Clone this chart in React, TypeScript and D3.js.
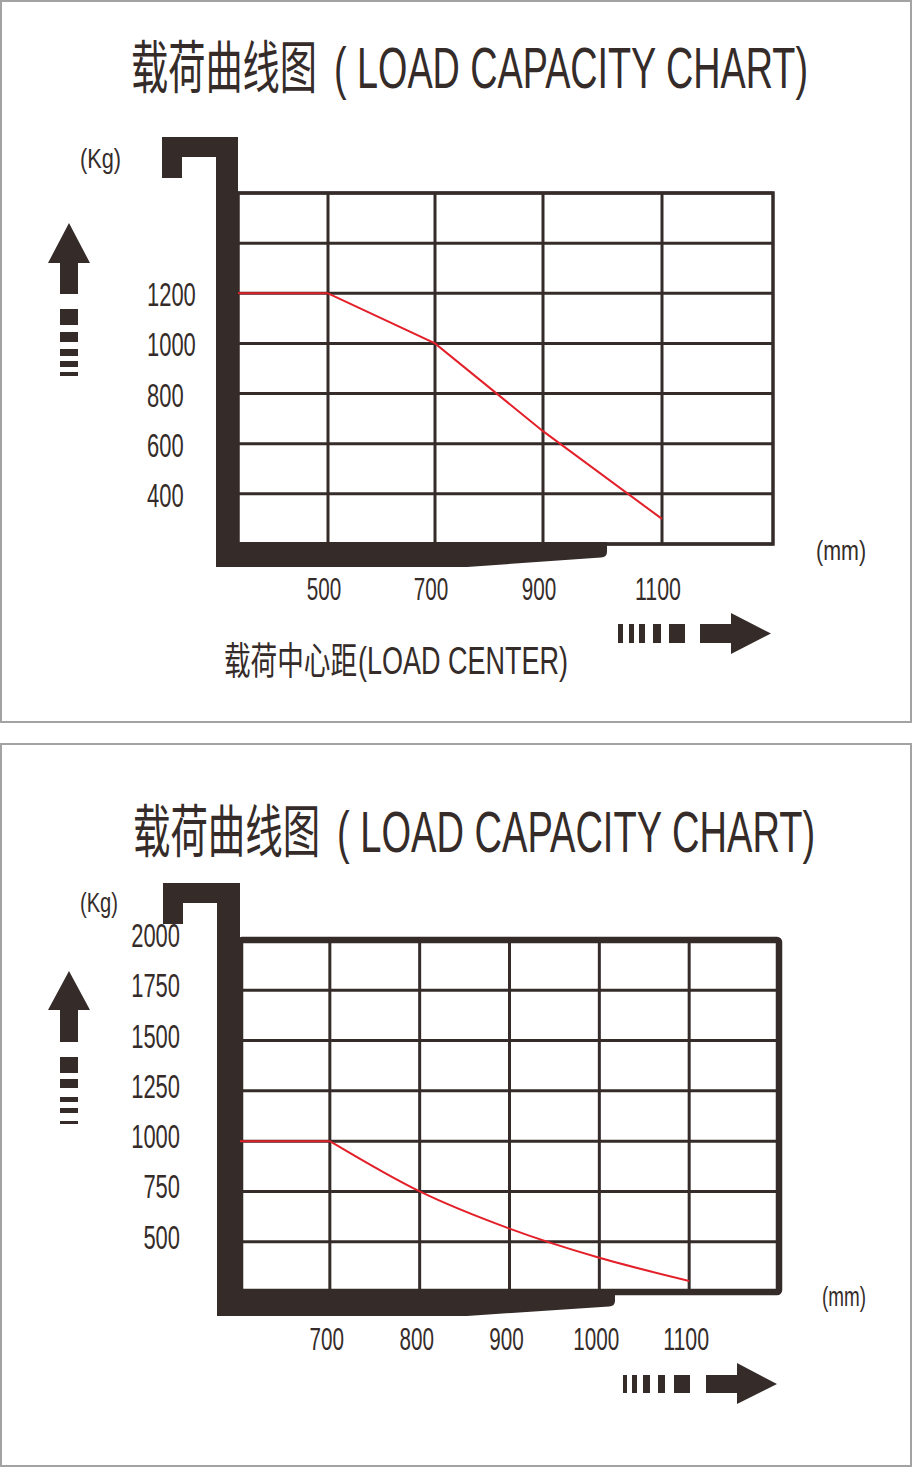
import * as d3 from "d3";
import { useLayoutEffect, useRef, useState } from "react";

// ---- data ----
const titleZh = "载荷曲线图";
const titleEn = "( LOAD CAPACITY CHART)";
const xAxisZh = "载荷中心距";
const xAxisEn = "(LOAD CENTER)";

// upper chart
const topXTicks = [500, 700, 900, 1100];
const topYTicks = [400, 600, 800, 1000, 1200];
const topYGrid = [200, 400, 600, 800, 1000, 1200, 1400, 1600];
const topLoadCenter = [300, 500, 700, 900, 1100];
const topCapacity = [1200, 1200, 1000, 650, 300];

// lower chart
const bottomXTicks = [700, 800, 900, 1000, 1100];
const bottomYTicks = [500, 750, 1000, 1250, 1500, 1750, 2000];
const bottomYGrid = [250, 500, 750, 1000, 1250, 1500, 1750, 2000];
const bottomLoadCenter = [600, 700, 800, 900, 1000, 1100];
const bottomCapacity = [1000, 1000, 750, 565, 420, 305];

const INK = "#352c2a";
const RED = "#e3202a";
const LATIN = "'Liberation Sans Narrow', 'Liberation Sans', Arial, sans-serif";
const CJK = "'Noto Sans CJK SC', sans-serif";

// condensed text: measured, then squeezed horizontally to the width seen in the reference
function Txt({ x, y, len, size, anchor = "start", font = LATIN, children }: any) {
  const ref = useRef<SVGTextElement>(null);
  const [k, setK] = useState(0.7);
  useLayoutEffect(() => {
    const fit = () => {
      if (!ref.current) return;
      const w = ref.current.getComputedTextLength();
      if (w > 0) setK(len / w);
    };
    fit();
    document.fonts?.ready.then(fit);
  }, [len, size, font, children]);
  return (
    <text
      ref={ref}
      transform={`translate(${x},${y}) scale(${k},1)`}
      fontSize={size}
      fontFamily={font}
      fill={INK}
      textAnchor={anchor}
    >
      {children}
    </text>
  );
}

function forkPath(f: any) {
  return [
    `M${f.hookX},${f.top}`,
    `H${f.faceX}`,
    `V${f.bladeTop}`,
    `H${f.tipX}`,
    `V${f.tipBottom - 5}`,
    `Q${f.tipX},${f.tipBottom} ${f.tipX - 6},${f.tipBottom + 0.5}`,
    `L${f.taperX},${f.bladeBottom}`,
    `H${f.barX}`,
    `V${f.hookBar}`,
    `H${f.hookX + 20}`,
    `V${f.hookBottom}`,
    `H${f.hookX}`,
    "Z",
  ].join(" ");
}

function UpArrow({ a }: any) {
  const cx = 69;
  return (
    <g fill={INK}>
      <path d={`M${cx},${a.apex} L${cx + 21},${a.base} H${cx + 9} V${a.shaft} H${cx - 9} V${a.base} H${cx - 21} Z`} />
      {a.dashes.map((d: number[], i: number) => (
        <rect key={i} x={cx - 9} y={d[0]} width={18} height={d[1] - d[0]} />
      ))}
    </g>
  );
}

function RightArrow({ a }: any) {
  const mid = (a.y0 + a.y1) / 2;
  return (
    <g fill={INK}>
      {a.dashes.map((d: number[], i: number) => (
        <rect key={i} x={d[0]} y={a.y0} width={d[1] - d[0]} height={a.y1 - a.y0} />
      ))}
      <path
        d={`M${a.shaft0},${a.y0} H${a.shaft1} V${a.headTop} L${a.apex},${mid} L${a.shaft1},${a.headBottom} V${a.y1} H${a.shaft0} Z`}
      />
    </g>
  );
}

function Chart({ cfg }: any) {
  const x = d3.scaleLinear().domain(cfg.xDomain).range(cfg.xRange);
  const y = d3.scaleLinear().domain(cfg.yDomain).range(cfg.yRange);
  const [gx0, gx1] = [x.range()[0], x.range()[x.range().length - 1]];
  const [gy0, gy1] = [y(cfg.yDomain[1]), y(cfg.yDomain[0])];
  const pts: [number, number][] = cfg.loadCenter.map((d: number, i: number) => [d, cfg.capacity[i]]);
  const flat = pts.slice(0, 2);
  const bend = pts.slice(1);
  const line = d3.line<[number, number]>().x((d) => x(d[0])).y((d) => y(d[1]));
  const curve = d3
    .line<[number, number]>()
    .x((d) => x(d[0]))
    .y((d) => y(d[1]))
    .curve(cfg.smooth ? d3.curveMonotoneX : d3.curveLinear);

  return (
    <g>
      <rect x={1} y={cfg.panel[0]} width={910} height={cfg.panel[1] - cfg.panel[0]} fill="#fff" stroke="#a3a3a3" strokeWidth={2} />
      {/* title */}
      <Txt x={cfg.title.zhX} y={cfg.title.y} len={cfg.title.zhLen} size={57} font={CJK}>{titleZh}</Txt>
      <Txt x={cfg.title.enX} y={cfg.title.y} len={cfg.title.enLen} size={57}>{titleEn}</Txt>

      {/* grid */}
      <g stroke={INK} strokeWidth={3} fill="none">
        {cfg.yGrid.map((v: number) => (
          <line key={v} x1={gx0} x2={gx1} y1={y(v)} y2={y(v)} />
        ))}
        {cfg.xTicks.map((v: number) => (
          <line key={v} x1={x(v)} x2={x(v)} y1={gy0} y2={gy1} />
        ))}
        <rect x={gx0} y={gy0} width={gx1 - gx0} height={gy1 - gy0} strokeWidth={cfg.border} rx={cfg.border > 4 ? 2 : 0} />
      </g>

      {/* fork */}
      <path d={forkPath(cfg.fork)} fill={INK} />

      {/* capacity curve */}
      <path d={line(flat) || ""} fill="none" stroke={RED} strokeWidth={2} />
      <path d={curve(bend) || ""} fill="none" stroke={RED} strokeWidth={2} />

      {/* axis labels */}
      {cfg.yTicks.map((v: number) => (
        <Txt key={v} x={cfg.yLabel.x} y={y(v) + cfg.yLabel.dy} anchor={cfg.yLabel.anchor} size={34} len={String(v).length * 12.2}>
          {v}
        </Txt>
      ))}
      {cfg.xTicks.map((v: number) => (
        <Txt key={v} x={x(v) + cfg.xLabel.dx} y={cfg.xLabel.y} anchor="middle" size={32} len={String(v).length * 11.5}>
          {v}
        </Txt>
      ))}
      <Txt x={cfg.kg[0]} y={cfg.kg[1]} size={28} len={cfg.kg[2]}>(Kg)</Txt>
      <Txt x={cfg.mm[0]} y={cfg.mm[1]} size={28} len={cfg.mm[2]}>(mm)</Txt>
      {cfg.center && (
        <g>
          <Txt x={cfg.center.x} y={cfg.center.y} size={38} font={CJK} len={cfg.center.zhLen}>{xAxisZh}</Txt>
          <Txt x={cfg.center.x + cfg.center.zhLen + 1} y={cfg.center.y} size={38} len={cfg.center.enLen}>{xAxisEn}</Txt>
        </g>
      )}

      <UpArrow a={cfg.up} />
      <RightArrow a={cfg.right} />
    </g>
  );
}

const topCfg = {
  panel: [1, 722],
  title: { zhX: 131, enX: 334, y: 88, zhLen: 186, enLen: 474 },
  xDomain: [300, 500, 700, 900, 1100, 1300],
  xRange: [238, 328, 435, 543, 662, 773],
  yDomain: [200, 1600],
  yRange: [544, 193],
  xTicks: topXTicks,
  yTicks: topYTicks,
  yGrid: topYGrid,
  loadCenter: topLoadCenter,
  capacity: topCapacity,
  smooth: false,
  border: 3.5,
  yLabel: { x: 147, dy: 13, anchor: "start" },
  xLabel: { y: 600, dx: -4 },
  kg: [80, 168, 41],
  mm: [816, 560, 50],
  center: { x: 224, y: 674, zhLen: 133, enLen: 210 },
  fork: { hookX: 162, barX: 216, faceX: 238, top: 137, hookBar: 157, hookBottom: 178, bladeTop: 542, bladeBottom: 567, tipX: 607, taperX: 467, tipBottom: 557 },
  up: { apex: 223, base: 263, shaft: 294, dashes: [[309, 325], [332, 342], [349, 356], [361, 367], [372, 376]] },
  right: { y0: 624, y1: 643, dashes: [[618, 623], [629, 634], [639, 645], [653, 661], [669, 685]], shaft0: 700, shaft1: 731, apex: 771, headTop: 613, headBottom: 654 },
};

const bottomCfg = {
  panel: [744, 1466],
  title: { zhX: 133, enX: 337, y: 852, zhLen: 187, enLen: 478 },
  xDomain: [600, 1200],
  xRange: [240, 779],
  yDomain: [250, 2000],
  yRange: [1292, 940],
  xTicks: bottomXTicks,
  yTicks: bottomYTicks,
  yGrid: bottomYGrid,
  loadCenter: bottomLoadCenter,
  capacity: bottomCapacity,
  smooth: true,
  border: 6.5,
  yLabel: { x: 180, dy: 7, anchor: "end" },
  xLabel: { y: 1350, dx: -3 },
  kg: [80, 912, 38],
  mm: [822, 1306, 44],
  center: null,
  fork: { hookX: 163, barX: 217, faceX: 240, top: 883, hookBar: 903, hookBottom: 924, bladeTop: 1289, bladeBottom: 1316, tipX: 615, taperX: 467, tipBottom: 1306 },
  up: { apex: 971, base: 1010, shaft: 1042, dashes: [[1057, 1073], [1079, 1088], [1097, 1102], [1108, 1113], [1121, 1124]] },
  right: { y0: 1375, y1: 1393, dashes: [[623, 627], [632, 637], [643, 650], [658, 665], [674, 690]], shaft0: 706, shaft1: 737, apex: 777, headTop: 1363, headBottom: 1404 },
};

export default function App() {
  return (
    <svg
      width={912}
      height={1467}
      viewBox="0 0 912 1467"
      style={{ position: "absolute", left: 0, top: 0, background: "#fff" }}
    >
      <rect width={912} height={1467} fill="#fff" />
      <Chart cfg={topCfg} />
      <Chart cfg={bottomCfg} />
    </svg>
  );
}
